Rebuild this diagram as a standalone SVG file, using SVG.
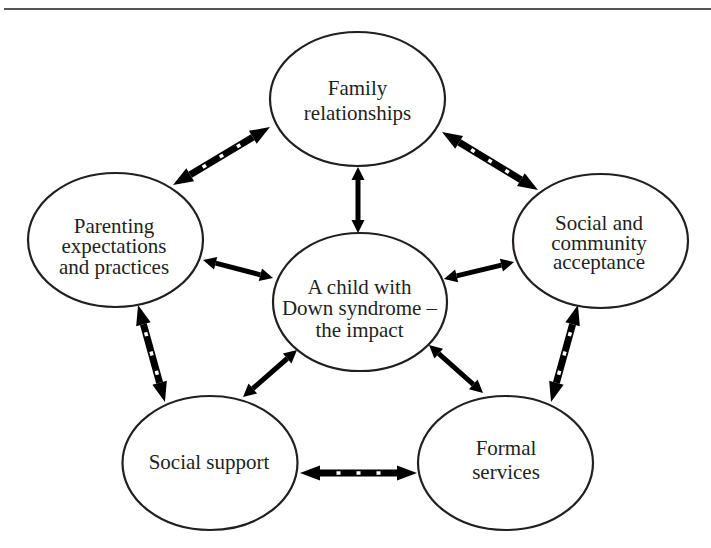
<svg xmlns="http://www.w3.org/2000/svg" width="711" height="548" viewBox="0 0 711 548">
<style>
.node ellipse{fill:#fff;stroke:#231f20;stroke-width:2.2}
.node text{font-size:21px;fill:#231f20;text-anchor:middle}
.solid{stroke:#000;stroke-width:5;fill:none;marker-start:url(#hs);marker-end:url(#hs)}
.chk{stroke:#000;stroke-width:7;fill:none;marker-start:url(#hc);marker-end:url(#hc)}
.dots{stroke:#fff;stroke-width:3.5;stroke-dasharray:4 16;fill:none}
</style>
<defs>
<marker id="hs" markerUnits="userSpaceOnUse" markerWidth="14" markerHeight="14" refX="0" refY="6.5" orient="auto-start-reverse" overflow="visible">
<path d="M0,0 L13,6.5 L0,13 z" fill="#000"/>
</marker>
<marker id="hc" markerUnits="userSpaceOnUse" markerWidth="21" markerHeight="16" refX="0" refY="7.5" orient="auto-start-reverse" overflow="visible">
<path d="M0,0 L20,7.5 L0,15 z" fill="#000"/>
</marker>
</defs>
<line x1="4" y1="9" x2="711" y2="9" stroke="#555" stroke-width="2"/>
<g id="connectors">
<line class="solid" x1="358" y1="180" x2="358" y2="220"/>
<line class="solid" x1="215.6" y1="263.2" x2="260.4" y2="274.8"/>
<line class="solid" x1="456.6" y1="275.9" x2="501.4" y2="265.1"/>
<line class="solid" x1="287.2" y1="358.5" x2="252.8" y2="388.5"/>
<line class="solid" x1="438.7" y1="353.6" x2="473.3" y2="384.4"/>
<line class="chk" x1="190.2" y1="174.7" x2="252.8" y2="137.3"/>
<line class="dots" x1="202.6" y1="167.3" x2="240.4" y2="144.7"/>
<line class="chk" x1="459.1" y1="142.3" x2="520.9" y2="179.7"/>
<line class="dots" x1="471.2" y1="149.6" x2="508.8" y2="172.4"/>
<line class="chk" x1="143.4" y1="324.3" x2="159.6" y2="382.7"/>
<line class="dots" x1="145.6" y1="332.3" x2="157.4" y2="374.7"/>
<line class="chk" x1="572.6" y1="324.3" x2="556.4" y2="382.7"/>
<line class="dots" x1="570.4" y1="332.3" x2="558.6" y2="374.7"/>
<line class="chk" x1="320" y1="473" x2="397" y2="473"/>
<line class="dots" x1="336.5" y1="473" x2="380.5" y2="473"/>
</g>
<g font-family="'Liberation Serif', 'Times New Roman', 'DejaVu Serif', serif">
<g id="family" class="node">
<ellipse cx="357.5" cy="99" rx="87.5" ry="67"/>
<text x="357.5" y="95">Family</text>
<text x="357.5" y="120">relationships</text>
</g>
<g id="parenting" class="node">
<ellipse cx="115.5" cy="240" rx="87.5" ry="67"/>
<text x="114" y="233">Parenting</text>
<text x="114" y="253">expectations</text>
<text x="114" y="274">and practices</text>
</g>
<g id="child" class="node">
<ellipse cx="360" cy="302" rx="87" ry="69"/>
<text x="359.5" y="294">A child with</text>
<text x="359.5" y="315">Down syndrome –</text>
<text x="359.5" y="337">the impact</text>
</g>
<g id="social" class="node">
<ellipse cx="600.5" cy="241" rx="87.5" ry="67"/>
<text x="599" y="230">Social and</text>
<text x="599" y="250">community</text>
<text x="599" y="269">acceptance</text>
</g>
<g id="support" class="node">
<ellipse cx="210" cy="463" rx="87.5" ry="67"/>
<text x="209" y="469">Social support</text>
</g>
<g id="formal" class="node">
<ellipse cx="505.5" cy="463" rx="87.5" ry="67"/>
<text x="506" y="455">Formal</text>
<text x="506" y="479">services</text>
</g>
</g>
</svg>
